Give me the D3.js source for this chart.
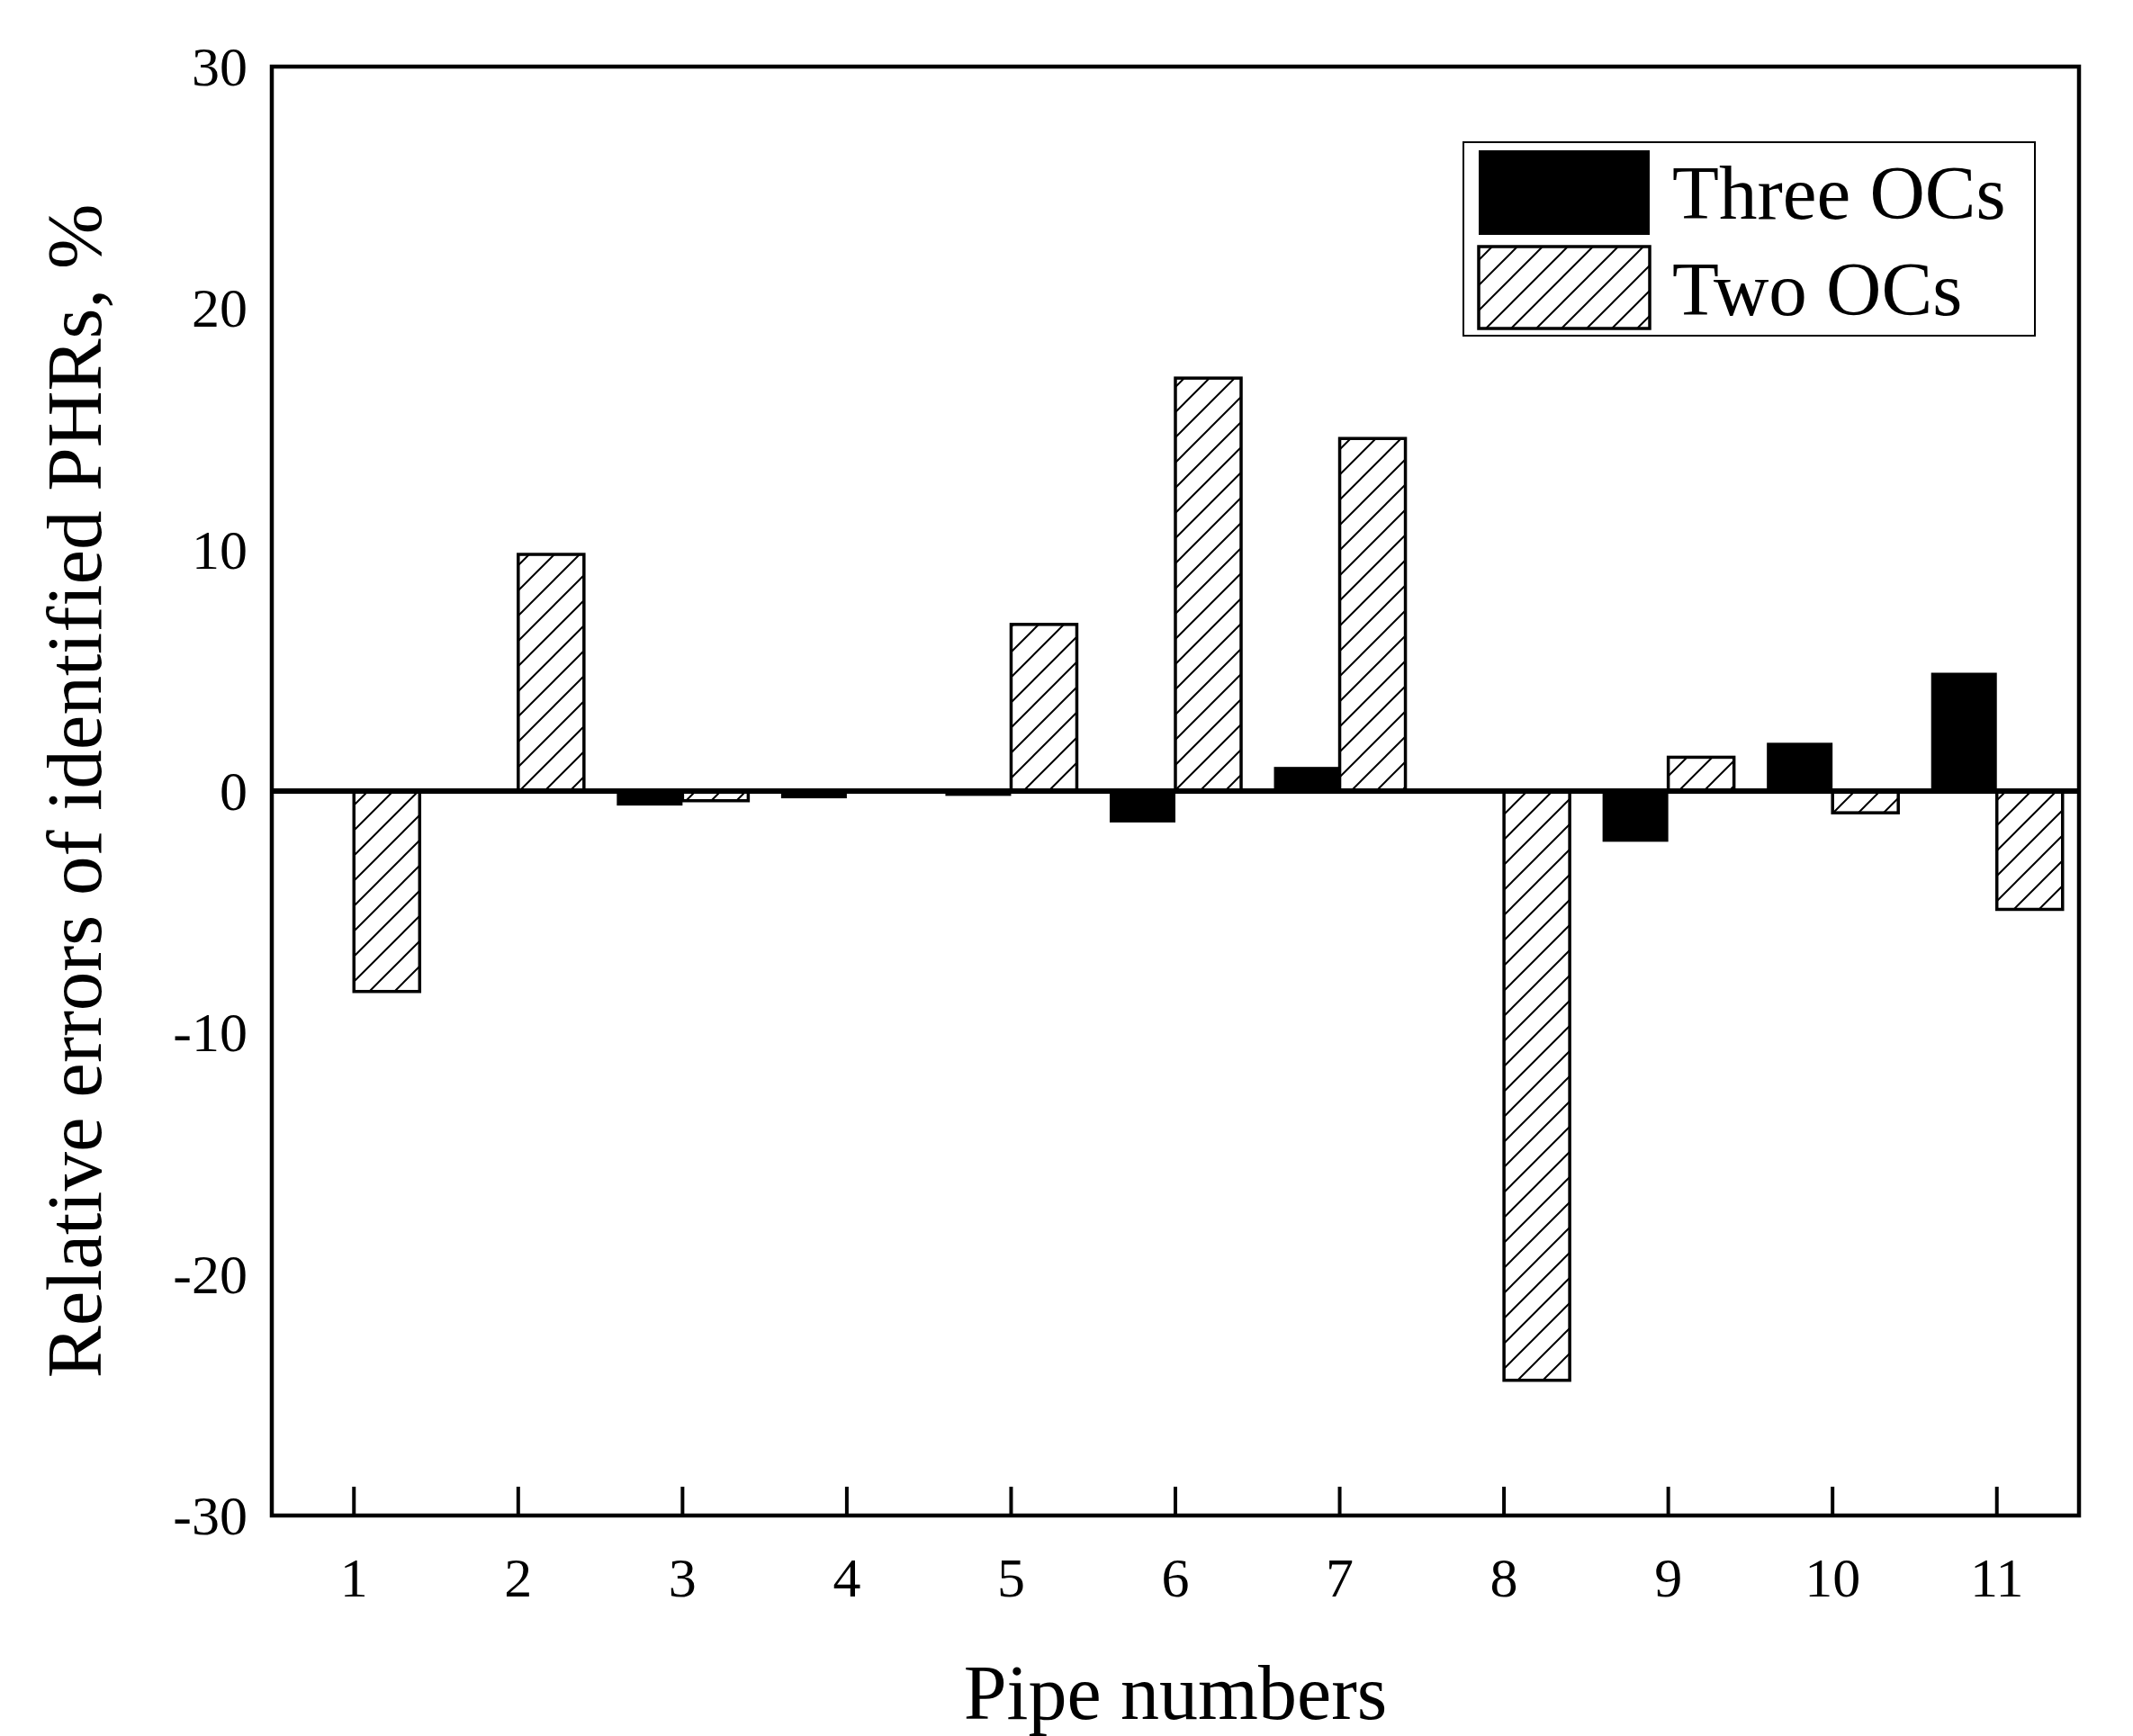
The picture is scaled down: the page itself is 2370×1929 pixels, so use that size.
<!DOCTYPE html>
<html><head><meta charset="utf-8">
<script src="https://cdn.jsdelivr.net/npm/d3@7"></script>
<style>body{margin:0;background:#fff}</style></head>
<body><svg id="c" width="2370" height="1929"></svg>
<script>
const pipes=[1,2,3,4,5,6,7,8,9,10,11];
const threeOCs=[0.1,0,-0.6,-0.3,-0.2,-1.3,1.0,0,-2.1,2.0,4.9];
const twoOCs=[-8.3,9.8,-0.4,0,6.9,17.1,14.6,-24.4,1.4,-0.9,-4.9];
const yTicks=[-30,-20,-10,0,10,20,30];
const seriesNames=["Three OCs","Two OCs"];

const svg=d3.select("#c");
const L=302,R=2310,T=74,B=1684;
const x=d3.scaleLinear().domain([0.5,11.5]).range([L,R]);
const y=d3.scaleLinear().domain([-30,30]).range([B,T]);
const font="'Liberation Serif','Times New Roman',serif";
const bw=0.4;

const defs=svg.append("defs");
const p=defs.append("pattern").attr("id","hatch").attr("patternUnits","userSpaceOnUse").attr("width",28).attr("height",28);
p.append("rect").attr("width",28).attr("height",28).attr("fill","#fff");
p.append("path").attr("d","M-7,7 L7,-7 M0,28 L28,0 M21,35 L35,21").attr("stroke","#000").attr("stroke-width",2);

svg.append("g").selectAll("rect").data(pipes).join("rect")
 .attr("x",d=>x(d-bw)).attr("width",x(bw)-x(0))
 .attr("y",(d,i)=>y(Math.max(0,threeOCs[i]))).attr("height",(d,i)=>Math.abs(y(threeOCs[i])-y(0)))
 .attr("fill","#000");
svg.append("g").selectAll("rect").data(pipes).join("rect")
 .attr("x",d=>x(d)).attr("width",x(bw)-x(0))
 .attr("y",(d,i)=>y(Math.max(0,twoOCs[i]))).attr("height",(d,i)=>Math.abs(y(twoOCs[i])-y(0)))
 .attr("fill","url(#hatch)").attr("stroke","#000").attr("stroke-width",3.5)
 .style("display",(d,i)=>twoOCs[i]===0?"none":null);

svg.append("line").attr("x1",L).attr("x2",R).attr("y1",y(0)).attr("y2",y(0)).attr("stroke","#000").attr("stroke-width",6);

svg.append("rect").attr("x",L).attr("y",T).attr("width",R-L).attr("height",B-T).attr("fill","none").attr("stroke","#000").attr("stroke-width",4.5);

const xa=svg.append("g");
xa.selectAll("line").data(pipes).join("line").attr("x1",d=>x(d)).attr("x2",d=>x(d)).attr("y1",B).attr("y2",B-32).attr("stroke","#000").attr("stroke-width",4);
xa.selectAll("text").data(pipes).join("text").attr("x",d=>x(d)).attr("y",1774).attr("text-anchor","middle")
 .attr("font-family",font).attr("font-size",62).text(d=>d);
svg.append("g").selectAll("text").data(yTicks).join("text").attr("x",275).attr("y",d=>y(d)+21).attr("text-anchor","end")
 .attr("font-family",font).attr("font-size",62).text(d=>d);

svg.append("text").attr("x",(L+R)/2).attr("y",1910).attr("text-anchor","middle").attr("font-family",font).attr("font-size",86).text("Pipe numbers");
svg.append("text").attr("transform",`translate(112,${(T+B)/2}) rotate(-90)`).attr("text-anchor","middle").attr("font-family",font).attr("font-size",87).text("Relative errors of identified PHRs, %");

const lg=svg.append("g");
lg.append("rect").attr("x",1626).attr("y",158).attr("width",635).attr("height",215).attr("fill","#fff").attr("stroke","#000").attr("stroke-width",2);
lg.append("rect").attr("x",1643).attr("y",167).attr("width",190).attr("height",94).attr("fill","#000");
lg.append("rect").attr("x",1643).attr("y",274).attr("width",190).attr("height",91).attr("fill","url(#hatch)").attr("stroke","#000").attr("stroke-width",3.5);
lg.selectAll("text").data(seriesNames).join("text").attr("x",1858).attr("y",(d,i)=>243+i*107)
 .attr("font-family",font).attr("font-size",85).text(d=>d);
</script></body></html>
